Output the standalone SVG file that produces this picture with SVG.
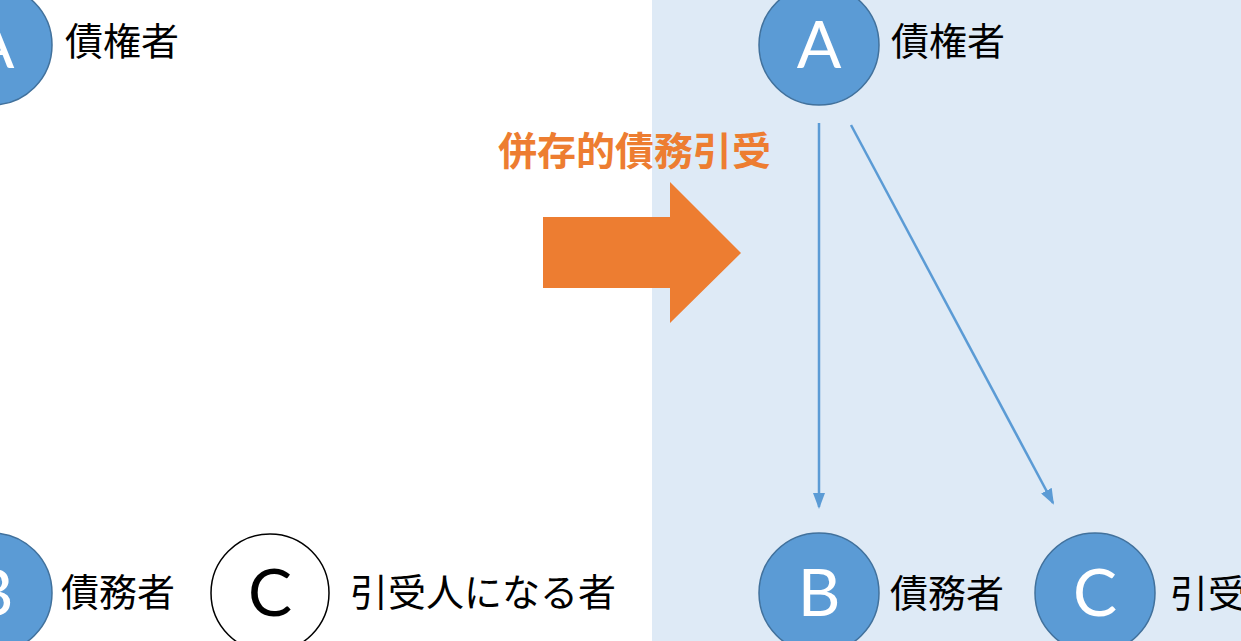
<svg xmlns="http://www.w3.org/2000/svg" width="1241" height="641" viewBox="0 0 1241 641">
<style>
.node{fill:#5B9BD5;stroke:#41719C;stroke-width:1.5}
.wnode{fill:#fff;stroke:#000;stroke-width:1.5}
.let{font-family:Lato,"Open Sans",sans-serif;font-size:66px;fill:#fff;text-anchor:middle}
.lbl{font-family:"Noto Sans CJK JP",sans-serif;font-size:38px;fill:#000}
.con{stroke:#5B9BD5;stroke-width:2.5;fill:none;marker-end:url(#ah)}
</style>
<defs>
<marker id="ah" viewBox="0 0 16 12" refX="14" refY="6" markerWidth="16" markerHeight="12" orient="auto" markerUnits="userSpaceOnUse">
<path d="M0,0 L16,6 L0,12 Z" fill="#5B9BD5"/>
</marker>
</defs>
<rect x="652" y="0" width="589" height="641" fill="#DEEAF6"/>
<g id="connectors">
<line class="con" x1="-6" y1="123" x2="-6" y2="493"/>
<line class="con" x1="819" y1="123" x2="819" y2="507"/>
<line class="con" x1="851" y1="125" x2="1053" y2="503"/>
</g>
<g id="arrow">
<polygon points="543,217 670,217 670,182 741,253 670,323 670,288 543,288" fill="#ED7D31"/>
<text x="498" y="165" font-family="Noto Sans CJK JP,sans-serif" font-weight="bold" font-size="39" fill="#ED7D31">併存的債務引受</text>
</g>
<g id="leftA"><circle class="node" cx="-8" cy="45" r="60"/><text class="let" x="-8" y="68">A</text><text class="lbl" x="65" y="55">債権者</text></g>
<g id="leftB"><circle class="node" cx="-8" cy="593" r="60"/><text class="let" x="-8" y="616">B</text><text class="lbl" x="61" y="606">債務者</text></g>
<g id="leftC"><circle class="wnode" cx="270" cy="593" r="59"/><text class="let" x="270" y="616" style="fill:#000">C</text><text class="lbl" x="350" y="606">引受人になる者</text></g>
<g id="rightA"><circle class="node" cx="819" cy="45" r="60"/><text class="let" x="819" y="68">A</text><text class="lbl" x="891" y="55">債権者</text></g>
<g id="rightB"><circle class="node" cx="819" cy="593" r="60"/><text class="let" x="819" y="616">B</text><text class="lbl" x="890" y="607">債務者</text></g>
<g id="rightC"><circle class="node" cx="1095" cy="593" r="60"/><text class="let" x="1095" y="616">C</text><text class="lbl" x="1170" y="607">引受人になる者</text></g>
</svg>
